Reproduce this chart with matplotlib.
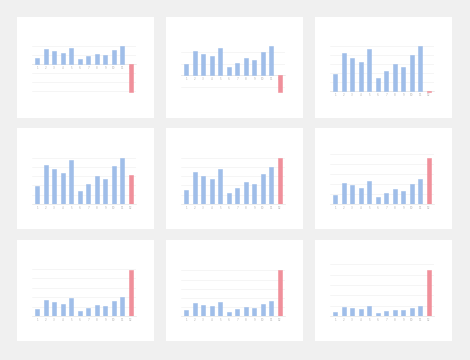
import matplotlib
matplotlib.use("Agg")
import matplotlib.pyplot as plt
from matplotlib.ticker import MaxNLocator

categories = ["1", "2", "3", "4", "5", "6", "7", "8", "9", "10", "11", "12"]
base_values = [3.8, 8.5, 7.5, 6.6, 9.4, 2.9, 4.4, 6.0, 5.4, 8.1, 10.0]
last_values = [-15.5, -5.9, -0.3, 6.2, 12.5, 18.6, 24.7, 30.6, 45.0]

BLUE = "#a0bee9"
RED = "#f0909b"

W, H = 470, 360
fig = plt.figure(figsize=(W / 100, H / 100), dpi=100)
fig.patch.set_facecolor("#f0f0f0")

col_x = [17, 166, 315]
row_y = [17, 128, 240]
pw, ph = 137, 101

for i, last in enumerate(last_values):
    r, c = divmod(i, 3)
    x0, y0 = col_x[c], row_y[r]
    bg = fig.add_axes([x0 / W, 1 - (y0 + ph) / H, pw / W, ph / H], zorder=0)
    bg.set_facecolor("white")
    bg.set_xticks([])
    bg.set_yticks([])
    for s in bg.spines.values():
        s.set_visible(False)
    ax = fig.add_axes([(x0 + 15) / W, 1 - (y0 + 24 + 52) / H, 104 / W, 52 / H], zorder=1)
    ax.set_facecolor("white")
    for s in ["top", "right", "left"]:
        ax.spines[s].set_visible(False)
    ax.spines["bottom"].set_position(("data", 0))
    ax.spines["bottom"].set_color("#e4e4e4")
    ax.spines["bottom"].set_linewidth(0.5)

    vals = base_values + [last]
    colors = [BLUE] * len(base_values) + [RED]
    ax.bar(range(len(vals)), vals, width=0.5, color=colors, edgecolor=colors,
           linewidth=0.4, zorder=3)
    ax.set_xticks(range(len(vals)))
    ax.set_xticklabels(categories)
    ax.tick_params(axis="x", length=0, pad=1.5, labelsize=2, labelcolor="#b0b0b0")
    ax.tick_params(axis="y", length=0, labelleft=False)
    ax.yaxis.set_major_locator(MaxNLocator(6))
    ax.grid(axis="y", color="#f2f2f2", linewidth=0.5, zorder=0)
    ax.set_xlim(-0.6, len(vals) - 0.4)
    lo = min(0, min(vals))
    hi = max(vals)
    ax.set_ylim(lo - (0.0 if lo == 0 else 0.02 * (hi - lo)), hi + 0.12 * (hi - lo))
    ax.set_axisbelow(True)

fig.savefig("out.png", dpi=100, facecolor=fig.get_facecolor())
